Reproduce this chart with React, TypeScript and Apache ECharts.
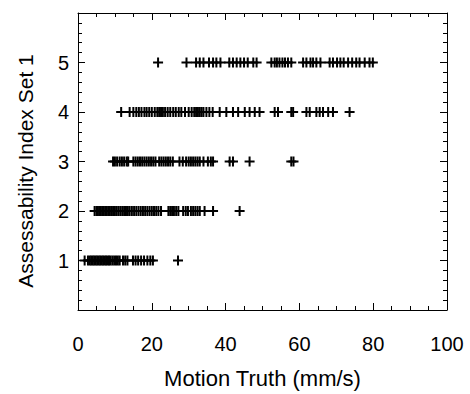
import React, { useEffect, useRef } from "react";
import * as echarts from "echarts";

const xTicks = [0, 20, 40, 60, 80, 100];
const yTicks = [1, 2, 3, 4, 5];

const index1 = [1.8, 2.7, 3.2, 3.6, 4.0, 4.4, 4.8, 5.2, 5.6, 6.0, 6.4, 6.8, 7.2, 7.6, 8.0, 8.4, 8.8, 9.3, 9.8, 10.3, 10.8, 11.3, 12.2, 12.8, 13.4, 14.9, 15.6, 16.3, 17.1, 17.9, 18.8, 19.6, 20.3, 27.1];
const index2 = [4.5, 5.0, 5.4, 5.8, 6.2, 6.6, 7.0, 7.4, 7.8, 8.2, 8.6, 9.0, 9.5, 10.0, 10.5, 11.0, 11.5, 12.0, 12.5, 13.0, 13.5, 14.0, 14.6, 15.2, 15.8, 16.4, 17.0, 17.6, 18.2, 18.8, 19.4, 20.0, 20.6, 21.2, 21.8, 22.5, 24.5, 25.0, 25.5, 26.0, 26.6, 27.2, 28.5, 29.2, 29.8, 30.6, 31.2, 31.8, 32.4, 33.0, 34.3, 36.6, 43.8];
const index3 = [9.5, 10.0, 10.6, 11.3, 11.9, 12.5, 13.2, 13.6, 15.0, 15.6, 16.2, 16.8, 17.4, 18.0, 18.6, 19.2, 19.8, 20.4, 21.0, 22.0, 22.6, 23.2, 23.8, 24.4, 25.0, 25.7, 27.5, 28.4, 29.3, 30.0, 30.6, 31.2, 31.8, 32.4, 33.0, 34.0, 35.2, 36.0, 36.6, 41.1, 42.0, 46.5, 57.8, 58.4];
const index4 = [11.7, 14.0, 15.0, 15.8, 16.5, 17.2, 18.0, 18.6, 19.3, 20.0, 20.8, 21.5, 22.0, 22.5, 23.0, 23.6, 24.3, 25.0, 25.8, 26.5, 27.3, 28.0, 29.0, 30.0, 30.8, 31.5, 32.0, 32.5, 33.0, 33.5, 34.0, 34.8, 35.6, 36.5, 38.4, 40.2, 42.0, 43.4, 45.2, 46.5, 47.9, 49.2, 53.3, 54.2, 57.8, 58.3, 61.9, 62.8, 64.6, 65.5, 66.4, 67.8, 69.1, 73.6];
const index5 = [21.7, 29.4, 32.0, 33.0, 34.0, 35.5, 36.6, 37.5, 38.6, 41.0, 42.0, 43.0, 44.0, 45.0, 46.0, 47.5, 48.4, 52.4, 53.3, 53.9, 54.6, 55.4, 56.1, 56.9, 57.8, 61.0, 61.9, 63.0, 63.7, 64.6, 65.7, 68.2, 69.1, 70.2, 71.1, 72.0, 73.2, 74.3, 75.4, 76.3, 77.7, 79.0, 79.9];

const rows: [number, number[]][] = [
  [1, index1],
  [2, index2],
  [3, index3],
  [4, index4],
  [5, index5],
];

const yTitle = "Assessability Index Set 1";
const xTitle = "Motion Truth (mm/s)";

const PLUS = "path://M4,0h2v4h4v2h-4v4h-2v-4h-4v-2h4z";

export default function App() {
  const ref = useRef<HTMLDivElement>(null);
  useEffect(() => {
    if (!ref.current) return;
    const chart = echarts.init(ref.current, null, { renderer: "svg" });
    const data: number[][] = [];
    rows.forEach(([lvl, xs]) => xs.forEach((x) => data.push([x, lvl])));
    const font = "Liberation Sans";
    const tickStyle = { color: "#000", width: 1 };
    chart.setOption({
      animation: false,
      backgroundColor: "#fff",
      grid: { left: 78, right: 23, top: 13, bottom: 82, containLabel: false },
      graphic: [
        {
          type: "text",
          x: 25,
          y: 171,
          rotation: Math.PI / 2,
          style: {
            text: yTitle,
            fill: "#000",
            fontSize: 21,
            fontFamily: font,
            align: "center",
            verticalAlign: "middle",
          },
        },
      ],
      xAxis: [
        {
          type: "value",
          min: 0,
          max: 100,
          interval: 20,
          position: "bottom",
          name: xTitle,
          nameLocation: "middle",
          nameGap: 57,
          nameTextStyle: { color: "#000", fontSize: 22, fontFamily: font },
          axisLine: { show: true, onZero: false, lineStyle: { color: "#000", width: 1 } },
          axisTick: { show: true, inside: true, length: 7, lineStyle: tickStyle },
          minorTick: { show: true, splitNumber: 4, length: 4, lineStyle: tickStyle },
          axisLabel: {
            color: "#000",
            fontSize: 20,
            fontFamily: font,
            margin: 24,
            formatter: (v: number) => (xTicks.includes(v) ? String(v) : ""),
          },
          splitLine: { show: false },
        },
        {
          type: "value",
          min: 0,
          max: 100,
          interval: 20,
          position: "top",
          axisLine: { show: true, onZero: false, lineStyle: { color: "#000", width: 1 } },
          axisTick: { show: true, inside: true, length: 7, lineStyle: tickStyle },
          minorTick: { show: true, splitNumber: 4, length: 4, lineStyle: tickStyle },
          axisLabel: { show: false },
          splitLine: { show: false },
        },
      ],
      yAxis: [
        {
          type: "value",
          min: 0,
          max: 6,
          interval: 1,
          position: "left",
          axisLine: { show: true, onZero: false, lineStyle: { color: "#000", width: 1 } },
          axisTick: { show: true, inside: true, length: 7, lineStyle: tickStyle },
          minorTick: { show: true, splitNumber: 5, length: 4, lineStyle: tickStyle },
          axisLabel: {
            color: "#000",
            fontSize: 20,
            fontFamily: font,
            margin: 9,
            formatter: (v: number) => (yTicks.includes(v) ? String(v) : ""),
          },
          splitLine: { show: false },
        },
        {
          type: "value",
          min: 0,
          max: 6,
          interval: 1,
          position: "right",
          axisLine: { show: true, onZero: false, lineStyle: { color: "#000", width: 1 } },
          axisTick: { show: true, inside: true, length: 7, lineStyle: tickStyle },
          minorTick: { show: true, splitNumber: 5, length: 4, lineStyle: tickStyle },
          axisLabel: { show: false },
          splitLine: { show: false },
        },
      ],
      series: [
        {
          type: "scatter",
          xAxisIndex: 0,
          yAxisIndex: 0,
          data,
          symbol: PLUS,
          symbolSize: 10,
          itemStyle: { color: "#000", opacity: 1 },
        },
      ],
    });
    return () => chart.dispose();
  }, []);
  return (
    <div
      ref={ref}
      style={{ position: "fixed", left: 0, top: 0, width: 470, height: 394, background: "#fff" }}
    />
  );
}
